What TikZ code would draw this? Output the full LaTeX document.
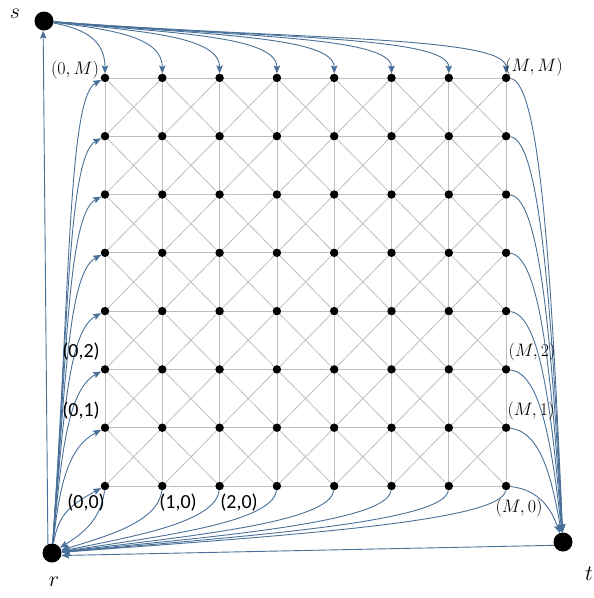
\RequirePackage{fix-cm}
\documentclass[tikz,border=0pt]{standalone}
\usepackage{fontspec}
\newfontfamily\calfont{Carlito}
\usetikzlibrary{arrows.meta}
\definecolor{arrblue}{RGB}{72,112,152}
\definecolor{gridgray}{RGB}{190,190,190}
\begin{document}
\begin{tikzpicture}[x=1pt,y=-1pt,
  dot/.style={circle,fill=black,inner sep=0pt,minimum size=8.5pt},
  bigdot/.style={circle,fill=black,inner sep=0pt,minimum size=19pt},
  gridline/.style={draw=gridgray,line width=0.8pt},
  arr/.style={draw=arrblue,line width=0.9pt,-{Stealth[length=8pt,width=6.5pt,inset=1.5pt]}},
  mlab/.style={inner sep=0pt,font=\fontsize{18}{20}\selectfont},
  clab/.style={inner sep=0pt,font=\calfont\fontsize{20}{22}\selectfont},
  vlab/.style={inner sep=0pt,font=\fontsize{22}{24}\selectfont}]
\useasboundingbox (0,0) rectangle (594,598);
% grid nodes
\foreach \i in {0,...,7}{
  \foreach \j in {0,...,7}{
    \node[dot] (n-\i-\j) at ({105+57.3*\i},{486-58.3*\j}) {};
  }
}
% grid lines
\foreach \i [evaluate=\i as \ii using int(\i+1)] in {0,...,6}{
  \foreach \j in {0,...,7}{
    \draw[gridline] (n-\i-\j) -- (n-\ii-\j);
    \draw[gridline] (n-\j-\i) -- (n-\j-\ii);
  }
  \foreach \j [evaluate=\j as \jj using int(\j+1)] in {0,...,6}{
    \draw[gridline] (n-\i-\j) -- (n-\ii-\jj);
    \draw[gridline] (n-\ii-\j) -- (n-\i-\jj);
  }
}
% terminals
\node[bigdot] (s) at (44,21) {};
\node[bigdot] (r) at (52,553) {};
\node[bigdot] (t) at (563,542) {};
% s -> top row
\foreach \i in {0,...,7}{
  \pgfmathsetmacro{\X}{105+57.3*\i}
  \pgfmathsetmacro{\d}{\X-44}
  \pgfmathsetmacro{\ax}{44+0.55*\d}
  \pgfmathsetmacro{\ay}{26+0.03*\d}
  \draw[arr] (s) .. controls (\ax,\ay) and (\X,36) .. (n-\i-7);
}
% r -> left column
\foreach \j in {0,...,7}{
  \pgfmathsetmacro{\Y}{486-58.3*\j}
  \pgfmathsetmacro{\dY}{553-\Y}
  \pgfmathsetmacro{\ax}{56+0.03*\dY}
  \pgfmathsetmacro{\ay}{553-0.55*\dY}
  \pgfmathsetmacro{\by}{\Y+20}
  \draw[arr] (r) .. controls (\ax,\ay) and (68,\by) .. (n-0-\j);
}
% right column -> t
\foreach \j in {0,...,7}{
  \pgfmathsetmacro{\Y}{486-58.3*\j}
  \pgfmathsetmacro{\ay}{\Y+4}
  \pgfmathsetmacro{\by}{542-0.55*(542-\Y)}
  \draw[arr] (n-7-\j) .. controls (541,\ay) and (552,\by) .. (t);
}
% bottom row -> r
\foreach \i in {0,...,7}{
  \pgfmathsetmacro{\X}{105+57.3*\i}
  \pgfmathsetmacro{\ax}{\X-4}
  \pgfmathsetmacro{\bx}{52+0.5*(\X-52)}
  \draw[arr] (n-\i-0) .. controls (\ax,522) and (\bx,536) .. (r);
}
% straight arrows
\draw[arr] (t.200) -- (r.-15);
\draw[arr] (r.115) -- (s.265);
% labels
\node[vlab] (ls) at (15,14) {$s$};
\node[vlab] (lr) at (54,582) {$r$};
\node[vlab] (lt) at (589,574) {$t$};
\node[mlab] (l0M) at (75,70) {$(0,M)$};
\node[mlab] (lMM) at (534,67) {$(M,M)$};
\node[clab] (l02) at (81,352) {(0,2)};
\node[clab] (l01) at (81,411) {(0,1)};
\node[clab] (l00) at (86,503) {(0,0)};
\node[clab] (l10) at (178,503) {(1,0)};
\node[clab] (l20) at (239,503) {(2,0)};
\node[mlab] (lM2) at (532,352) {$(M,2)$};
\node[mlab] (lM1) at (531,411) {$(M,1)$};
\node[mlab] (lM0) at (519,508) {$(M,0)$};
\end{tikzpicture}
\end{document}
